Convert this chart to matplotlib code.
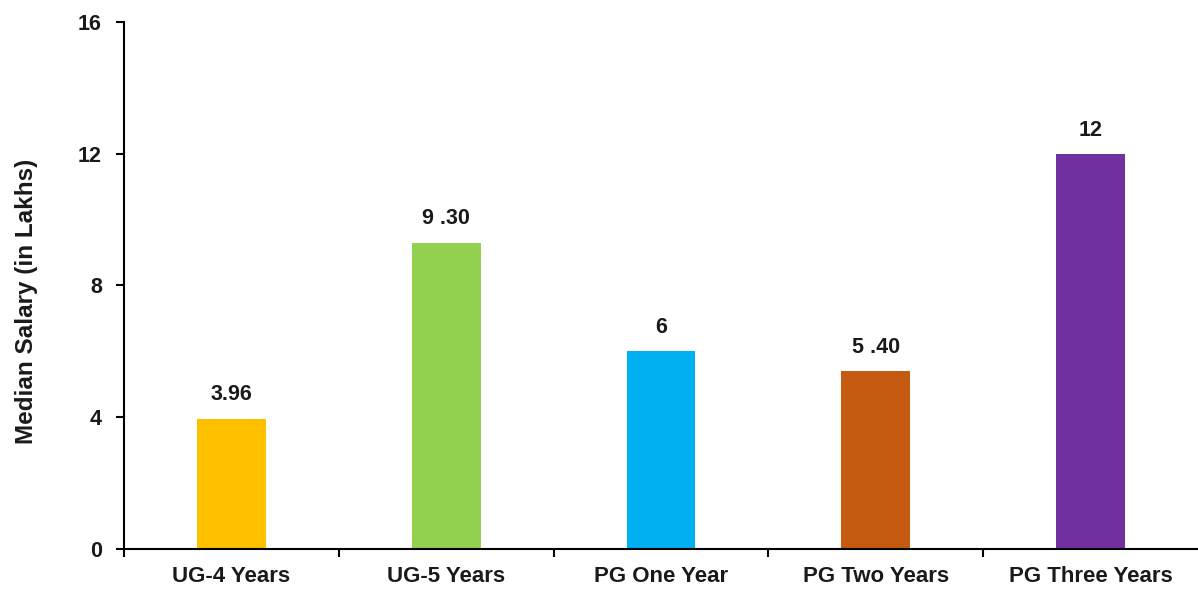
import numpy as np
import matplotlib.pyplot as plt

plt.rcParams['font.family'] = ['Liberation Sans', 'DejaVu Sans']
plt.rcParams['font.weight'] = 'bold'

categories = ['UG-4 Years', 'UG-5 Years', 'PG One Year', 'PG Two Years', 'PG Three Years']
salaries = [3.96, 9.30, 6, 5.40, 12]
value_labels = ['3.96', '9 .30', '6', '5 .40', '12']
colors = ['#FFC000', '#92D050', '#00B0F0', '#C55A11', '#7030A0']

fig = plt.figure(figsize=(11.98, 5.94), dpi=100)
ax = fig.add_axes([0.1035, 0.0758, 0.8965, 0.8872])

x = np.arange(len(categories))
ax.bar(x, salaries, width=0.32, color=colors)
for xi, v, lab in zip(x, salaries, value_labels):
    ax.text(xi, v + 0.4, lab, ha='center', va='bottom', fontsize=15.5, fontweight='bold', color='#1a1a1a')

ax.set_xlim(-0.5, len(categories) - 0.5)
ax.set_ylim(0, 16)
ax.set_yticks([0, 4, 8, 12, 16])
ax.set_xticks(x)
ax.set_xticklabels(categories, fontsize=16, fontweight='bold', color='#1a1a1a')
ax.set_xticks(np.arange(-0.5, len(categories) - 0.5, 1), minor=True)
ax.tick_params(axis='x', which='major', length=0, pad=12)
ax.tick_params(axis='x', which='minor', length=6, width=1.5, direction='out')
ax.tick_params(axis='y', length=6, width=1.5, labelsize=15.5, pad=10, labelcolor='#1a1a1a')
for lab in ax.get_yticklabels():
    lab.set_fontweight('bold')
ax.set_ylabel('Median Salary (in Lakhs)', fontsize=17.5, fontweight='bold', color='#1a1a1a')
ax.yaxis.set_label_coords(-0.08, 0.47)

ax.spines['top'].set_visible(False)
ax.spines['right'].set_visible(False)
ax.spines['left'].set_linewidth(1.5)
ax.spines['bottom'].set_linewidth(1.5)

fig.savefig('out.png', dpi=100)
